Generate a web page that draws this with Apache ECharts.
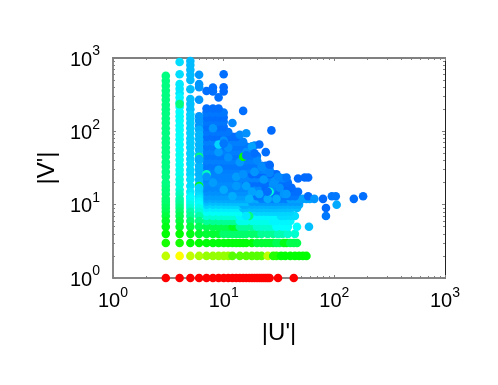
<!DOCTYPE html>
<html><head><meta charset="utf-8">
<style>html,body{margin:0;padding:0;background:#fff}#c{width:498px;height:385px}</style>
<script src="https://cdn.jsdelivr.net/npm/echarts@6/dist/echarts.min.js"></script>
</head><body><div id="c"></div>
<script>
const xTitle = "|U'|", yTitle = "|V'|";
const majorTicks = [1, 10, 100, 1000];
const minorTicks = [2,3,4,5,6,7,8,9,20,30,40,50,60,70,80,90,200,300,400,500,600,700,800,900];
const segV = [], segHue = [], segU = [];
function seg(v, h, us) { segV.push(v); segHue.push(h); segU.push(us); }

const colU = [3, 4, 5, 6];
const colV = [
 [570,490,420,360,310,270,230,200,175,150,130,110,95,80,70,60,52,45,38,33,28,24,20,18,16,14,12,11,10,9,8,7,6,5,4,3,2,1],
 [880,600,440,380,330,290,250,215,185,160,140,120,105,90,78,66,56,48,41,35,30,26,22,19,16,14,12,11,10,9,8,7,6,5,4,3,2,1],
 [910,800,690,590,500,375,275,235,200,170,150,130,110,95,80,70,60,50,42,36,30,26,22,18,15,13,12,11,10,9,8,7,6,5,4,3,2,1],
 [590,440,400,270,160,140,120,105,90,78,66,56,48,40,34,30,26,22,19,16,14,13,12,11,10,9,8,7,6,5,4,3,2,1]
];
const colHue = [
 [150,150,150,150,150,150,150,150,150,150,150,150,150,150,150,150,150,150,150,150,150,150,150,150,148,148,146,146,145,142,140,135,130,125,120,115,75,0],
 [188,188,185,185,185,182,182,180,180,178,178,178,178,178,178,178,178,176,176,176,175,175,172,172,170,165,160,158,155,150,145,140,135,130,120,115,60,0],
 [196,196,196,196,196,195,195,195,195,192,192,192,192,192,192,192,192,192,192,190,190,190,188,188,185,182,180,178,175,170,160,155,145,135,125,120,75,0],
 [205,205,205,205,205,205,205,200,198,198,198,198,198,198,198,198,198,197,196,194,190,188,185,182,180,175,170,160,150,140,130,120,80,0]
];

seg(1, 0, [7,8,9,10,11,12,13,14,15,16,17,18,19,20,21,22,23,24,25,26,31,43]);
seg(2, 85, [7,8,9,10,11]);
seg(2, 100, [12,14,16,18,20,22]);
seg(2, 75, [25]);
seg(2, 112, [28,30]);
seg(2, 120, [33,36,40,44,48,52,56]);
seg(3, 122, [7,8,9,10,11,12,13,14,15,16,18]);
seg(3, 132, [20,22,24,26,28]);
seg(3, 140, [30,32]);
seg(3, 125, [35,37]);
seg(3, 138, [40,43,46]);
seg(4, 132, [7,8,9]);
seg(4, 145, [10,11,12,13,14,15,16,18,20]);
seg(4, 155, [22,25,28]);
seg(4, 162, [31,34]);
seg(4, 168, [38,44]);
seg(5, 138, [7,8,9,10,11]);
seg(5, 128, [12,13]);
seg(5, 155, [14,15,16,18]);
seg(5, 168, [20,22,24,26,28]);
seg(5, 180, [30,34,38,46]);
seg(6, 155, [7,8,9,10,11,12,13]);
seg(6, 175, [14,15,16,18,20,22,24,26]);
seg(6, 182, [28,30,34,37,40]);
seg(7, 170, [7,8,9,10,11,12,13]);
seg(7, 182, [14,15,16,18,20,22,24,26,28,30]);
seg(7, 188, [33,36,40,44]);
seg(8, 178, [7,8,9,10,11,12,13,14,15]);
seg(8, 190, [16,18,20,22,24,26,28,30,33,36,40]);
seg(9, 184, [7,8,9,10,11,12,13,14]);
seg(9, 195, [15,16,18,20,22,24,26,28,30,33,36,40,46]);
seg(10, 190, [7,8,9,10,11,12,13,14]);
seg(10, 199, [15,16,18,20,22,24,26,28,30,33,36,40,44,48]);
seg(11, 195, [7,8,9,10,11,12,13,14,15,16]);
seg(11, 204, [18,20,22,24,26,28,30,33,36,40,44,48]);
seg(12, 200, [7,8,9,10,11,12,13,14,15,16,18,20]);
seg(12, 210, [22,24,26,28,30,33,36]);
seg(12, 202, [40,45,48,52,56,60]);
seg(13, 203, [7,8,9,10,11,12,13,14,15,16,18]);
seg(13, 212, [20,22,24,26,28,30,33,36,40,44]);
seg(15, 206, [7,8,9,10,11,12,13,14,15,16,18,20]);
seg(15, 214, [22,24,26,28,30,33,36,40,44]);
seg(17, 208, [7,8,9,10,11,12,13,14,15,16,18,20,22]);
seg(17, 215, [24,26,28,30,33,36,40,41]);
seg(20, 207, [7,8,9,10,11,12,13,14,15]);
seg(20, 214, [16,18,20,22,24,26,28,30,33,36,38]);
seg(23, 209, [7,8,9,10,11,12,13,14,15,16,18,20,22,24,26,28,30,33,35]);
seg(26, 209, [7,8,9,10,11,12,13,14,15,16]);
seg(26, 215, [18,20,22,24,26,28,30]);
seg(30, 210, [7,8,9,10,11,12,13,14,15,16,18,20,22,24,26]);
seg(34, 212, [7,8,9,10,11,12,13,14,15,16,18,20,22,24,26]);
seg(40, 210, [7,8,9,10,11,12,13,14,15,16,18,20]);
seg(46, 212, [7,8,9,10,11,12,13,14,15,16,18,20]);
seg(54, 210, [7,8,9,10,11,12,13,14,15,16,18]);
seg(62, 212, [7,8,9,10,11,12,13,14,15,16,18]);
seg(72, 210, [7,8,9,10,11,12,13,14,15]);
seg(84, 214, [7,8,9,10,11,12,13]);
seg(98, 212, [7,8,9,10,11]);
seg(115, 214, [7,8,9,10]);
seg(135, 212, [7,8,9,10]);
seg(155, 214, [7,8,9,10]);
seg(180, 212, [7,8,9,10]);
seg(205, 214, [7,8,9]);

// lighter and darker patches inside the mass, read by eye
const patchU   = [8,11,14,9,13,19,23,10,16,21,28,12,18,25,32,8,15,24,35,11,20,29,13,17,27,31,37,10,22,9,14,19,12,26,16,30];
const patchV   = [110,60,38,30,24,28,22,16,18,14,19,13,15,12,17,20,26,30,14,44,40,21,18,12,16,24,14,75,33,52,90,64,130,27,52,12];
const patchHue = [205,206,204,202,203,205,204,200,202,201,206,199,202,200,206,203,206,208,205,206,208,206,204,198,207,208,204,206,207,204,208,208,208,209,206,200];

// isolated points; every odd spot is followed by the point that partly covers it
const soloU   = [10,7,8,8,10,10,9,15,27,16,21,18,24,19,26,37,47,54,58,47,58,66,79,95,103,150,182,105,84,84,59,4,6,6,6,6,7,7,15,16,9,10,26,25,17,16];
const soloV   = [600,355,395,350,400,350,290,190,103,94,66,62,52,50,35,23.5,22.7,23.5,23.5,15,13,12,12,13,13,12,13,10,9,7,5,235,45,42,18,17,26,24,45,47,66,68,15,15,7,7];
const soloHue = [214,214,214,214,215,215,214,214,215,206,214,202,214,214,215,212,215,215,215,214,215,205,215,212,212,214,214,200,215,212,195,150,150,200,125,190,165,205,122,212,190,212,170,214,150,185];

const superMap = {1:'0', 10:'1', 100:'2', 1000:'3'};
const points = [];
segV.forEach((v, i) => segU[i].forEach(u => points.push([u, v, segHue[i]])));
colU.forEach((u, i) => colV[i].forEach((v, j) => points.push([u, v, colHue[i][j]])));
patchU.forEach((u, i) => points.push([u, patchV[i], patchHue[i]]));
soloU.forEach((u, i) => points.push([u, soloV[i], soloHue[i]]));

const FONT = '"Liberation Sans", Arial, sans-serif';
const GRAY = '#808080';
function axis(pos, isX, values, len, withLabel, lineColor, lineWidth) {
  const a = {
    type:'log', logBase:10, min:1, max:1000, position:pos,
    axisLine:{show:true, onZero:false, lineStyle:{color:lineColor, width:lineWidth}},
    axisTick:{show:true, inside:true, length:len, customValues:values, lineStyle:{color:GRAY, width:1}},
    minorTick:{show:false}, splitLine:{show:false}, minorSplitLine:{show:false},
    axisLabel:{show:false}
  };
  if (withLabel) {
    a.axisLabel = {
      show:true, customValues:majorTicks, margin:isX?8:13, hideOverlap:false, showMinLabel:true, showMaxLabel:true,
      padding:isX?0:[4,0,0,0], color:'#000', fontFamily:FONT, fontSize:20,
      formatter: v => '{b|10}{s|' + superMap[Math.round(v)] + '}',
      rich:{ b:{fontSize:20, fontFamily:FONT, color:'#000', lineHeight:31},
             s:{fontSize:14, fontFamily:FONT, color:'#000', verticalAlign:'top', lineHeight:14} }
    };
    a.name = isX ? xTitle : yTitle;
    a.nameLocation = 'middle';
    a.nameGap = isX ? 43 : 35;
    a.nameTextStyle = {color:'#000', fontFamily:FONT, fontSize:24};
  }
  return a;
}
const chart = echarts.init(document.getElementById('c'), null, {renderer:'canvas'});
chart.setOption({
  animation:false, backgroundColor:'#fff',
  grid:{left:113, right:53, top:58, bottom:107, containLabel:false},
  xAxis:[axis('bottom',true,majorTicks,3,true,GRAY,1.5), axis('top',true,majorTicks,3,false,GRAY,2), axis('bottom',true,minorTicks,2,false,GRAY,1.5), axis('top',true,minorTicks,2,false,GRAY,2)],
  yAxis:[axis('left',false,majorTicks,3,true,GRAY,1.5), axis('right',false,majorTicks,3,false,'#222',1), axis('left',false,minorTicks,2,false,GRAY,1.5), axis('right',false,minorTicks,2,false,'#222',1)],
  visualMap:{show:false, type:'continuous', min:0, max:240, dimension:2, seriesIndex:0,
    inRange:{color:['#ff0000','#ffff00','#00ff00','#00ffff','#0000ff']}},
  series:[{type:'scatter', data:points, symbol:'circle', symbolSize:8.6, clip:false, itemStyle:{opacity:1}, large:false, progressive:0}]
});
</script></body></html>
